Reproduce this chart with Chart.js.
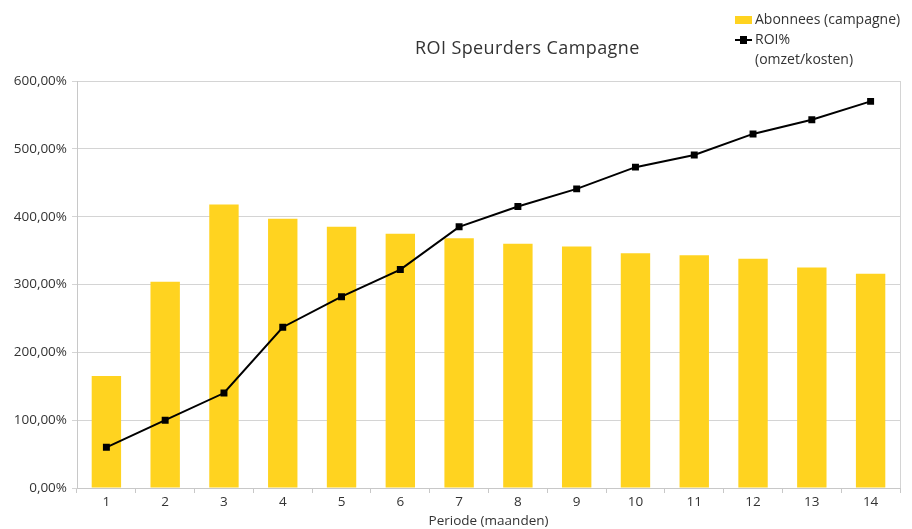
<!DOCTYPE html>
<html>
<head>
<meta charset="utf-8">
<script src="https://cdn.jsdelivr.net/npm/chart.js@4"></script>
<style>
  body { margin: 0; background: #fff; font-family: "Open Sans", sans-serif; }
  #wrap { position: relative; width: 912px; height: 529px; }
  #title { position: absolute; left: 415px; top: 35px; font-size: 18px; color: #333; letter-spacing: 0.4px; }
  #legend { position: absolute; left: 735px; top: 9px; font-size: 14px; color: #333; line-height: 20px; }
  .sw { display: inline-block; vertical-align: middle; }
</style>
</head>
<body>
<div id="wrap">
  <canvas id="myChart" width="912" height="529"></canvas>
  <div id="title">ROI Speurders Campagne</div>
  <div id="legend">
    <div><span class="sw" style="width:17px;height:8px;background:#FFD320;margin-right:3px"></span>Abonnees (campagne)</div>
    <div><span class="sw" style="position:relative;width:17px;height:8px;margin-right:3px">
      <span style="position:absolute;left:0;top:3px;width:17px;height:2px;background:#000"></span>
      <span style="position:absolute;left:5px;top:0;width:7px;height:8px;background:#000"></span>
    </span>ROI%</div>
    <div style="padding-left:20px">(omzet/kosten)</div>
  </div>
</div>
<script>
const periods = ['1','2','3','4','5','6','7','8','9','10','11','12','13','14'];
const abonnees = [165, 304, 418, 397, 385, 375, 368, 360, 356, 346, 343, 338, 325, 316];
const roi = [60, 100, 140, 237, 282, 322, 385, 415, 441, 473, 491, 522, 543, 570];

function pct(v)
{
    return v.toFixed(2).replace('.', ',') + '%';
}

const rightBorder = {
    id: 'rightBorder',
    afterDraw(chart) {
        const a = chart.chartArea;
        const ctx = chart.ctx;
        ctx.save();
        ctx.strokeStyle = '#d4d4d4';
        ctx.lineWidth = 1;
        ctx.beginPath();
        ctx.moveTo(a.right + 0.5, a.top);
        ctx.lineTo(a.right + 0.5, a.bottom);
        ctx.stroke();
        ctx.restore();
    }
};

Chart.defaults.font.family = '"Open Sans", sans-serif';
Chart.defaults.color = '#333';

new Chart(document.getElementById('myChart'), {
  type: 'bar',
  data: {
    labels: periods,
    datasets: [{
      type: 'line',
      label: 'ROI% (omzet/kosten)',
      data: roi,
      borderColor: '#000',
      backgroundColor: '#000',
      borderWidth: 2,
      pointStyle: 'rect',
      pointRadius: 3.5,
      tension: 0,
      order: 0
    }, {
      label: 'Abonnees (campagne)',
      data: abonnees,
      backgroundColor: '#FFD320',
      barPercentage: 0.5,
      categoryPercentage: 1,
      order: 1
    }]
  },
  options: {
    responsive: false,
    animation: false,
    layout: { padding: { top: 81, right: 12, left: 0, bottom: 0 } },
    plugins: {
      legend: { display: false },
      tooltip: { enabled: false }
    },
    scales: {
      x: {
        offset: true,
        grid: { display: true, drawOnChartArea: false, offset: true, color: '#c8c8c8', tickLength: 5 },
        border: { color: '#c8c8c8' },
        ticks: { font: { size: 13.5 }, padding: 1 },
        title: { display: true, text: 'Periode (maanden)', font: { size: 13.5 }, padding: { top: 0, bottom: 0 } },
        afterFit(scale) { scale.height = 41; }
      },
      y: {
        min: 0,
        max: 600,
        ticks: { stepSize: 100, font: { size: 13.5 }, padding: 5, callback: (v) => pct(v) },
        grid: { color: '#d4d4d4', tickLength: 5 },
        border: { color: '#c8c8c8' },
        afterFit(scale) { scale.width = 77; }
      }
    }
  },
  plugins: [rightBorder]
});
</script>
</body>
</html>
